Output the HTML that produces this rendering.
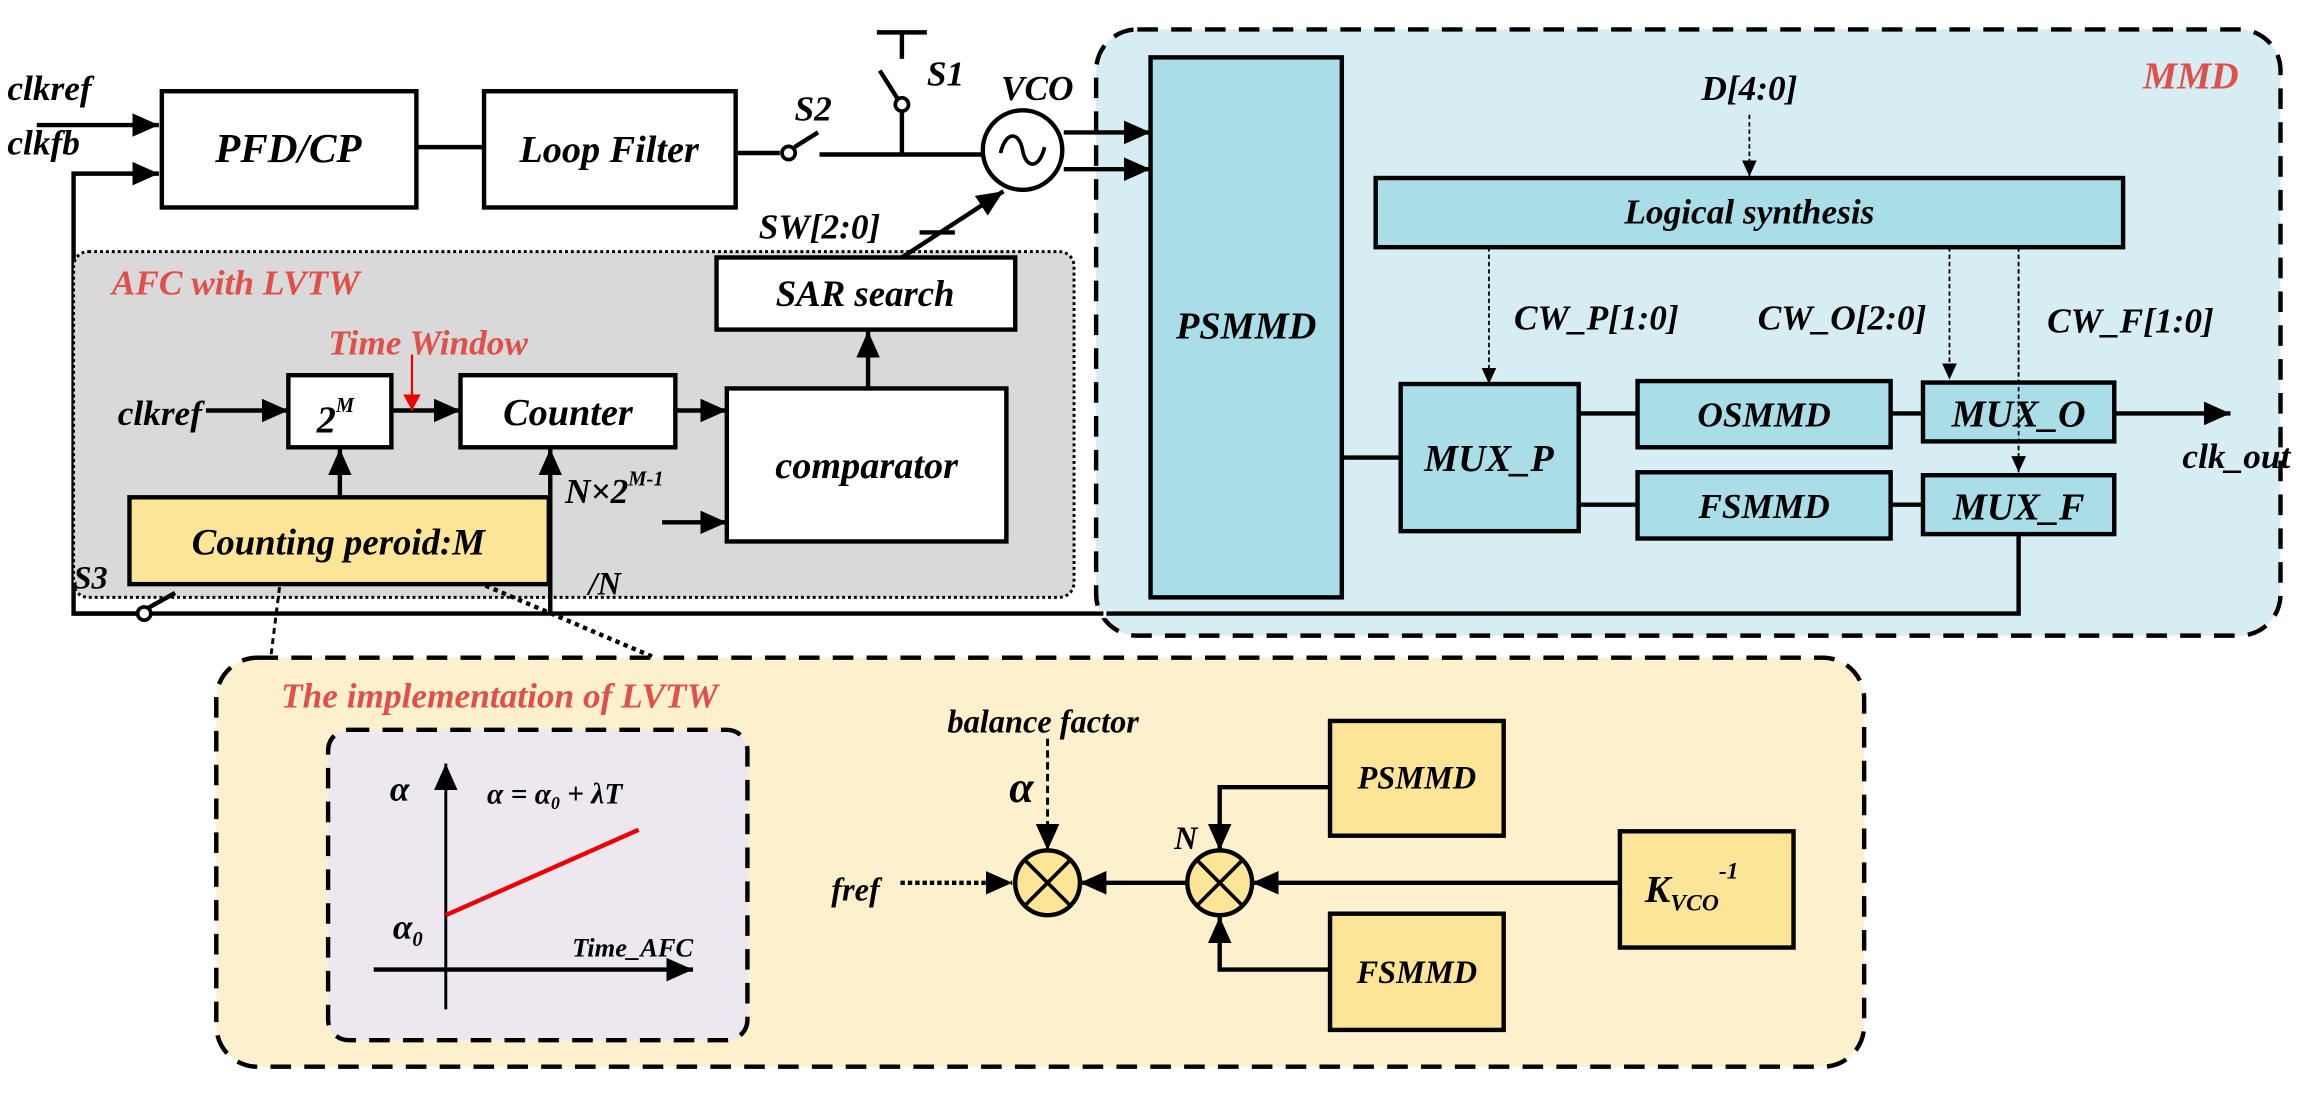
<!DOCTYPE html>
<html><head><meta charset="utf-8"><style>html,body{margin:0;padding:0;background:#fff}svg{display:block}text{font-family:"Liberation Serif",serif;font-style:italic;font-weight:bold}</style></head><body>
<svg width="2307" height="1116" viewBox="0 0 1568 758.5" preserveAspectRatio="none" xmlns="http://www.w3.org/2000/svg">
<defs>
<marker id="a" markerUnits="userSpaceOnUse" markerWidth="20" markerHeight="16" refX="18" refY="8" orient="auto"><path d="M0,0 L18,8 L0,16z" fill="#000"/></marker>
<marker id="s" markerUnits="userSpaceOnUse" markerWidth="12" markerHeight="10" refX="11" refY="5" orient="auto"><path d="M0,0 L11,5 L0,10z" fill="#000"/></marker>
<marker id="r" markerUnits="userSpaceOnUse" markerWidth="12" markerHeight="12" refX="11" refY="6" orient="auto"><path d="M0,0 L11,6 L0,12z" fill="#e00"/></marker>
</defs>
<!-- MMD region -->
<rect x="745" y="20" width="805" height="412" rx="28" fill="#d5edf3" stroke="#000" stroke-width="3" stroke-dasharray="14,9"/>
<text x="1489" y="60" font-size="26" fill="#e0504a" text-anchor="middle">MMD</text>
<rect x="782" y="39" width="130" height="367" fill="#a9dde8" stroke="#000" stroke-width="3"/>
<text x="847" y="230" font-size="26" text-anchor="middle">PSMMD</text>
<text x="1189" y="68" font-size="24" text-anchor="middle">D[4:0]</text>
<line x1="1189" y1="78" x2="1189" y2="120" stroke="#000" stroke-width="1.2" stroke-dasharray="3,2" marker-end="url(#s)"/>
<rect x="935" y="121" width="508" height="47" fill="#a9dde8" stroke="#000" stroke-width="3"/>
<text x="1189" y="152" font-size="24" text-anchor="middle">Logical synthesis</text>
<line x1="1012" y1="168" x2="1012" y2="261" stroke="#000" stroke-width="1.2" stroke-dasharray="3,2" marker-end="url(#s)"/>
<line x1="1325" y1="168" x2="1325" y2="258" stroke="#000" stroke-width="1.2" stroke-dasharray="3,2" marker-end="url(#s)"/>
<line x1="1372" y1="168" x2="1372" y2="321" stroke="#000" stroke-width="1.2" stroke-dasharray="3,2" marker-end="url(#s)"/>
<text x="1085" y="224" font-size="24" text-anchor="middle">CW_P[1:0]</text>
<text x="1252" y="224" font-size="24" text-anchor="middle">CW_O[2:0]</text>
<text x="1448" y="226" font-size="24" text-anchor="middle">CW_F[1:0]</text>
<g stroke="#000" stroke-width="3" fill="none">
<line x1="912" y1="311" x2="952" y2="311"/><line x1="1073" y1="281" x2="1113" y2="281"/><line x1="1073" y1="343" x2="1113" y2="343"/>
<line x1="1285" y1="281" x2="1307" y2="281"/><line x1="1285" y1="343" x2="1307" y2="343"/>
<line x1="1437" y1="281" x2="1516" y2="281" marker-end="url(#a)"/>
<polyline points="1372,363 1372,417 50,417 50,118 108,118" marker-end="url(#a)"/>
</g>
<rect x="952" y="261" width="121" height="100" fill="#a9dde8" stroke="#000" stroke-width="3"/>
<text x="1012" y="320" font-size="26" text-anchor="middle">MUX_P</text>
<rect x="1113" y="259" width="172" height="45" fill="#a9dde8" stroke="#000" stroke-width="3"/>
<text x="1199" y="290" font-size="24" text-anchor="middle">OSMMD</text>
<rect x="1113" y="321" width="172" height="45" fill="#a9dde8" stroke="#000" stroke-width="3"/>
<text x="1199" y="352" font-size="24" text-anchor="middle">FSMMD</text>
<rect x="1307" y="260" width="130" height="40" fill="#a9dde8" stroke="#000" stroke-width="3"/>
<text x="1372" y="290" font-size="26" text-anchor="middle">MUX_O</text>
<rect x="1307" y="323" width="130" height="40" fill="#a9dde8" stroke="#000" stroke-width="3"/>
<text x="1372" y="353" font-size="26" text-anchor="middle">MUX_F</text>
<line x1="1372" y1="168" x2="1372" y2="321" stroke="#000" stroke-width="1.2" stroke-dasharray="3,2"/>
<text x="1520" y="318" font-size="24" text-anchor="middle">clk_out</text>
<!-- AFC region -->
<rect x="50" y="171" width="680" height="235" rx="10" fill="#d9d9d9" stroke="#000" stroke-width="2" stroke-dasharray="2,2"/>
<text x="76" y="200" font-size="24" fill="#e0504a">AFC with LVTW</text>
<text x="291" y="241" font-size="24" fill="#e0504a" text-anchor="middle">Time Window</text>
<!-- top chain -->
<text x="5" y="68" font-size="24">clkref</text>
<text x="5" y="105" font-size="24">clkfb</text>
<g stroke="#000" stroke-width="3" fill="none">
<line x1="25" y1="85" x2="108" y2="85" marker-end="url(#a)"/>
<line x1="282" y1="100" x2="329" y2="100"/>
<line x1="500" y1="104" x2="530" y2="104"/>
<line x1="540" y1="100" x2="556" y2="90"/>
<line x1="557" y1="105" x2="667" y2="105"/>
<line x1="613" y1="105" x2="613" y2="76"/>
<line x1="610" y1="67" x2="598" y2="48"/>
<line x1="613" y1="22" x2="613" y2="40"/>
<line x1="596" y1="22" x2="630" y2="22"/>
<line x1="723" y1="90" x2="782" y2="90" marker-end="url(#a)"/>
<line x1="723" y1="115" x2="782" y2="115" marker-end="url(#a)"/>
<line x1="613" y1="175" x2="682" y2="130" marker-end="url(#a)"/>
<line x1="625" y1="158" x2="649" y2="158"/>
<line x1="50" y1="417" x2="94" y2="417"/>
<line x1="101" y1="413" x2="119" y2="403"/>
</g>
<circle cx="536" cy="104" r="4.5" fill="#fff" stroke="#000" stroke-width="2.5"/>
<circle cx="613" cy="71" r="4.5" fill="#fff" stroke="#000" stroke-width="2.5"/>
<circle cx="98" cy="417" r="4.5" fill="#fff" stroke="#000" stroke-width="2.5"/>
<rect x="122" y="415" width="630" height="5" fill="#fff"/>
<line x1="122" y1="417" x2="750" y2="417" stroke="#000" stroke-width="3"/>
<rect x="110" y="62" width="173" height="79" fill="#fff" stroke="#000" stroke-width="3"/>
<text x="196" y="110" font-size="28" text-anchor="middle">PFD/CP</text>
<rect x="329" y="62" width="171" height="79" fill="#fff" stroke="#000" stroke-width="3"/>
<text x="414" y="110" font-size="26" text-anchor="middle">Loop Filter</text>
<text x="540" y="82" font-size="24">S2</text>
<text x="630" y="58" font-size="24">S1</text>
<text x="705" y="68" font-size="24" text-anchor="middle">VCO</text>
<circle cx="695" cy="102" r="27" fill="#fff" stroke="#000" stroke-width="3"/>
<path d="M680,104 C684,88 693,90 695,102 C697,114 706,116 710,100" fill="none" stroke="#000" stroke-width="2.5"/>
<text x="557" y="162" font-size="24" text-anchor="middle">SW[2:0]</text>
<rect x="487" y="175" width="203" height="49" fill="#fff" stroke="#000" stroke-width="3"/>
<text x="588" y="208" font-size="25" text-anchor="middle">SAR search</text>
<g stroke="#000" stroke-width="3" fill="none">
<line x1="140" y1="279" x2="196" y2="279" marker-end="url(#a)"/>
<line x1="266" y1="279" x2="313" y2="279" marker-end="url(#a)"/>
<line x1="459" y1="279" x2="494" y2="279" marker-end="url(#a)"/>
<line x1="450" y1="355" x2="494" y2="355" marker-end="url(#a)"/>
<line x1="590" y1="264" x2="590" y2="225" marker-end="url(#a)"/>
<line x1="231" y1="338" x2="231" y2="305" marker-end="url(#a)"/>
<line x1="374" y1="417" x2="374" y2="305" marker-end="url(#a)"/>
</g>
<line x1="280" y1="241" x2="280" y2="279" stroke="#e00" stroke-width="1.5" marker-end="url(#r)"/>
<text x="80" y="289" font-size="24">clkref</text>
<rect x="196" y="255" width="70" height="49" fill="#fff" stroke="#000" stroke-width="3"/>
<text x="228" y="294" font-size="26" text-anchor="middle">2<tspan font-size="14" dy="-14">M</tspan></text>
<rect x="313" y="255" width="146" height="49" fill="#fff" stroke="#000" stroke-width="3"/>
<text x="386" y="289" font-size="26" text-anchor="middle">Counter</text>
<rect x="494" y="264" width="190" height="104" fill="#fff" stroke="#000" stroke-width="3"/>
<text x="589" y="325" font-size="26" text-anchor="middle">comparator</text>
<text x="384" y="342" font-size="24">N×2<tspan font-size="14" dy="-12">M-1</tspan></text>
<rect x="88" y="338" width="285" height="59" fill="#fde598" stroke="#000" stroke-width="3"/>
<text x="230" y="377" font-size="25" text-anchor="middle">Counting peroid:M</text>
<text x="50" y="400" font-size="22">S3</text>
<text x="400" y="404" font-size="22">/N</text>
<!-- lower region -->
<line x1="190" y1="399" x2="184" y2="447" stroke="#000" stroke-width="2" stroke-dasharray="4,3"/>
<line x1="330" y1="398" x2="445" y2="447" stroke="#000" stroke-width="3" stroke-dasharray="3,3"/>
<rect x="147" y="447" width="1120" height="278" rx="28" fill="#fdf0cc" stroke="#000" stroke-width="3" stroke-dasharray="14,9"/>
<text x="191" y="481" font-size="24" fill="#e0504a">The implementation of LVTW</text>
<rect x="223" y="496" width="285" height="211" rx="14" fill="#ede8f0" stroke="#000" stroke-width="3" stroke-dasharray="14,9"/>
<line x1="303" y1="686" x2="303" y2="519" stroke="#000" stroke-width="2" marker-end="url(#a)"/>
<line x1="254" y1="659" x2="471" y2="659" stroke="#000" stroke-width="3" marker-end="url(#a)"/>
<line x1="303" y1="622" x2="434" y2="564" stroke="#e00" stroke-width="3"/>
<text x="265" y="544" font-size="24">α</text>
<text x="267" y="638" font-size="24">α<tspan font-size="14" dy="5">0</tspan></text>
<text x="331" y="546" font-size="20" font-weight="normal">α = α<tspan font-size="12" dy="4">0</tspan><tspan dy="-4"> + λT</tspan></text>
<text x="430" y="660" font-size="18" text-anchor="middle" dy="-10">Time_AFC</text>
<text x="709" y="498" font-size="22" text-anchor="middle">balance factor</text>
<text x="686" y="545" font-size="30">α</text>
<line x1="712" y1="502" x2="712" y2="578" stroke="#000" stroke-width="2" stroke-dasharray="5,3" marker-end="url(#a)"/>
<text x="565" y="612" font-size="22">fref</text>
<line x1="612" y1="600" x2="688" y2="600" stroke="#000" stroke-width="3" stroke-dasharray="3,2" marker-end="url(#a)"/>
<g stroke="#000" stroke-width="3" fill="none">
<line x1="808" y1="600" x2="734" y2="600" marker-end="url(#a)"/>
<line x1="1101" y1="600" x2="851" y2="600" marker-end="url(#a)"/>
<polyline points="904,535 829,535 829,578" marker-end="url(#a)"/>
<polyline points="904,659 829,659 829,623" marker-end="url(#a)"/>
</g>
<g fill="#fde598" stroke="#000" stroke-width="3">
<circle cx="712" cy="600" r="22"/><circle cx="829" cy="600" r="22"/>
</g>
<g stroke="#000" stroke-width="2.5">
<line x1="697" y1="585" x2="727" y2="615"/><line x1="727" y1="585" x2="697" y2="615"/>
<line x1="814" y1="585" x2="844" y2="615"/><line x1="844" y1="585" x2="814" y2="615"/>
</g>
<text x="798" y="577" font-size="22">N</text>
<rect x="904" y="490" width="118" height="78" fill="#fde598" stroke="#000" stroke-width="3"/>
<text x="963" y="536" font-size="22" text-anchor="middle">PSMMD</text>
<rect x="904" y="621" width="118" height="79" fill="#fde598" stroke="#000" stroke-width="3"/>
<text x="963" y="668" font-size="22" text-anchor="middle">FSMMD</text>
<rect x="1101" y="565" width="118" height="79" fill="#fde598" stroke="#000" stroke-width="3"/>
<text x="1118" y="613" font-size="26">K<tspan font-size="16" dy="6">VCO</tspan><tspan font-size="16" dy="-22">-1</tspan></text>
</svg>
</body></html>
